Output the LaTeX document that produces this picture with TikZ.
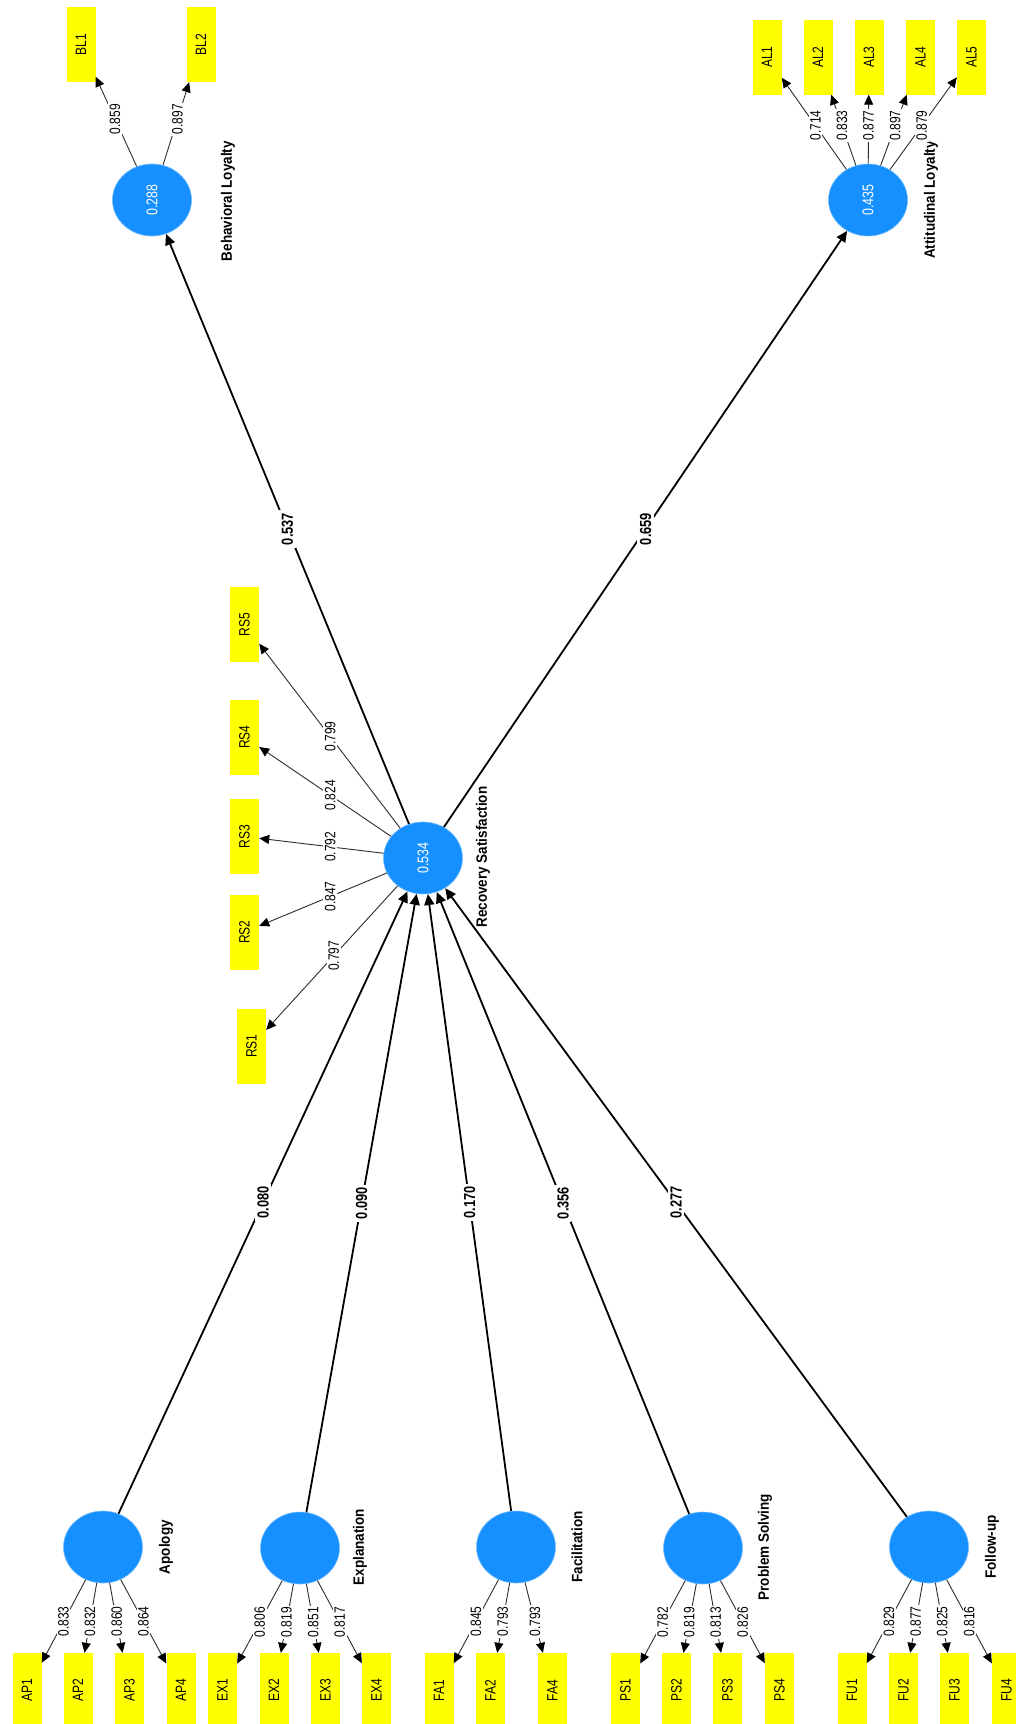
\documentclass[tikz,border=0pt]{standalone}
\usepackage{fontspec}
\setmainfont{Liberation Sans}[FakeStretch=0.8]
\newfontfamily\lvnamefont{Liberation Sans}[FakeStretch=0.9]
\usetikzlibrary{arrows.meta,shapes.geometric,calc}
\definecolor{lvblue}{RGB}{22,144,255}
\definecolor{indyellow}{RGB}{255,255,0}
\definecolor{loadgray}{RGB}{45,45,45}

\tikzset{
  latent/.style={ellipse, fill=lvblue, draw=lvblue!60!white, line width=0.6pt,
    minimum width=72pt, minimum height=79pt, inner sep=0pt, rotate=90,
    text=white, font=\fontsize{15.5}{17}\selectfont},
  indicator/.style={rectangle, fill=indyellow, minimum width=75pt, minimum height=29pt,
    inner sep=0pt, rotate=90, font=\fontsize{15}{17}\selectfont},
  lvname/.style={rotate=90, inner sep=0pt, font=\lvnamefont\bfseries\fontsize{15}{17}\selectfont},
  loading/.style={draw=loadgray, line width=0.9pt,
    -{Triangle[length=10pt,width=9pt,color=black]}},
  structural/.style={draw=black, line width=1.8pt,
    -{Triangle[length=11pt,width=10pt]}},
  loadlbl/.style={fill=white, rotate=90, inner sep=1.5pt, font=\fontsize{15}{17}\selectfont},
  coeflbl/.style={fill=white, rotate=90, inner sep=2.5pt, font=\bfseries\fontsize{16}{18}\selectfont},
}
\newcommand\loadarrow[3]{\draw[loading] (#1) -- (#2) node[loadlbl] at ($(#1)!0.52!(#2)$) {#3};}
\newcommand\pathcoef[3]{\draw[structural] (#1) -- (#2) node[coeflbl] at ($(#1)!0.5!(#2)$) {#3};}

\begin{document}
\begin{tikzpicture}[x=1pt,y=-1pt]
\useasboundingbox (0,0) rectangle (1016,1724);
\fill[white] (0,0) rectangle (1016,1724);
\clip (0,0) rectangle (1016,1724);

% latent variables
\node[latent] (bl) at (152,200) {0.288};
\node[latent] (al) at (868,200) {0.435};
\node[latent] (rs) at (423,858) {0.534};
\node[latent] (ap) at (103,1547) {};
\node[latent] (ex) at (300,1548) {};
\node[latent] (fa) at (516,1547) {};
\node[latent] (ps) at (703,1548) {};
\node[latent] (fu) at (929,1547) {};

% latent variable names
\node[lvname] (blname) at (228,201) {Behavioral Loyalty};
\node[lvname] (alname) at (931,200) {Attitudinal Loyalty};
\node[lvname] (rsname) at (483,857) {Recovery Satisfaction};
\node[lvname] (apname) at (166,1547) {Apology};
\node[lvname] (exname) at (360,1547) {Explanation};
\node[lvname] (faname) at (577,1547) {Facilitation};
\node[lvname] (psname) at (765,1547) {Problem Solving};
\node[lvname] (funame) at (992,1547) {Follow-up};

% indicators
\node[indicator] (bl1) at (81,44.5) {BL1};
\node[indicator] (bl2) at (201,44.5) {BL2};
\node[indicator] (al1) at (767,57) {AL1};
\node[indicator] (al2) at (818,57) {AL2};
\node[indicator] (al3) at (869,57) {AL3};
\node[indicator] (al4) at (920.5,57) {AL4};
\node[indicator] (al5) at (971.5,57) {AL5};
\node[indicator] (rs5) at (244.5,624.5) {RS5};
\node[indicator] (rs4) at (244.5,737) {RS4};
\node[indicator] (rs3) at (244.5,836.5) {RS3};
\node[indicator] (rs2) at (244.5,932) {RS2};
\node[indicator] (rs1) at (251.5,1046) {RS1};
\node[indicator] (ap1) at (27,1690.5) {AP1};
\node[indicator] (ap2) at (78,1690.5) {AP2};
\node[indicator] (ap3) at (129.5,1690.5) {AP3};
\node[indicator] (ap4) at (181,1690.5) {AP4};
\node[indicator] (ex1) at (222.5,1690.5) {EX1};
\node[indicator] (ex2) at (274,1690.5) {EX2};
\node[indicator] (ex3) at (325.5,1690.5) {EX3};
\node[indicator] (ex4) at (376.5,1690.5) {EX4};
\node[indicator] (fa1) at (439,1690.5) {FA1};
\node[indicator] (fa2) at (490.5,1690.5) {FA2};
\node[indicator] (fa4) at (552.5,1690.5) {FA4};
\node[indicator] (ps1) at (625.5,1690.5) {PS1};
\node[indicator] (ps2) at (676.5,1690.5) {PS2};
\node[indicator] (ps3) at (727.5,1690.5) {PS3};
\node[indicator] (ps4) at (779.5,1690.5) {PS4};
\node[indicator] (fu1) at (852,1690.5) {FU1};
\node[indicator] (fu2) at (903.5,1690.5) {FU2};
\node[indicator] (fu3) at (954.5,1690.5) {FU3};
\node[indicator] (fu4) at (1006.5,1690.5) {FU4};

% outer loadings
\loadarrow{bl}{bl1}{0.859}
\loadarrow{bl}{bl2}{0.897}
\loadarrow{al}{al1}{0.714}
\loadarrow{al}{al2}{0.833}
\loadarrow{al}{al3}{0.877}
\loadarrow{al}{al4}{0.897}
\loadarrow{al}{al5}{0.879}
\loadarrow{rs}{rs5}{0.799}
\loadarrow{rs}{rs4}{0.824}
\loadarrow{rs}{rs3}{0.792}
\loadarrow{rs}{rs2}{0.847}
\loadarrow{rs}{rs1}{0.797}
\loadarrow{ap}{ap1}{0.833}
\loadarrow{ap}{ap2}{0.832}
\loadarrow{ap}{ap3}{0.860}
\loadarrow{ap}{ap4}{0.864}
\loadarrow{ex}{ex1}{0.806}
\loadarrow{ex}{ex2}{0.819}
\loadarrow{ex}{ex3}{0.851}
\loadarrow{ex}{ex4}{0.817}
\loadarrow{fa}{fa1}{0.845}
\loadarrow{fa}{fa2}{0.793}
\loadarrow{fa}{fa4}{0.793}
\loadarrow{ps}{ps1}{0.782}
\loadarrow{ps}{ps2}{0.819}
\loadarrow{ps}{ps3}{0.813}
\loadarrow{ps}{ps4}{0.826}
\loadarrow{fu}{fu1}{0.829}
\loadarrow{fu}{fu2}{0.877}
\loadarrow{fu}{fu3}{0.825}
\loadarrow{fu}{fu4}{0.816}

% path coefficients
\pathcoef{ap}{rs}{0.080}
\pathcoef{ex}{rs}{0.090}
\pathcoef{fa}{rs}{0.170}
\pathcoef{ps}{rs}{0.356}
\pathcoef{fu}{rs}{0.277}
\pathcoef{rs}{bl}{0.537}
\pathcoef{rs}{al}{0.659}
\end{tikzpicture}
\end{document}
